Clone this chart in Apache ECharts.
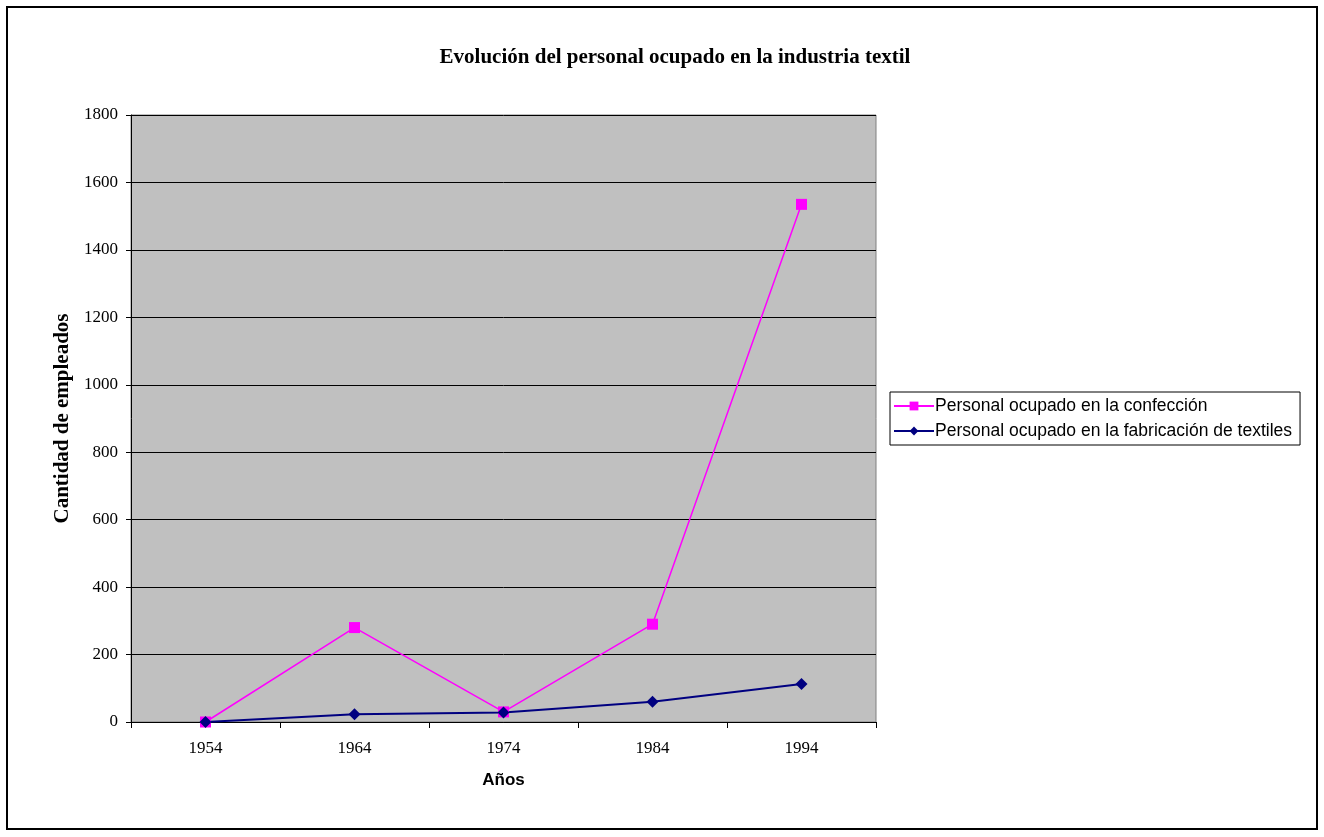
<!DOCTYPE html>
<html><head><meta charset="utf-8">
<script src="https://cdn.jsdelivr.net/npm/echarts@6/dist/echarts.min.js"></script>
<style>html,body{margin:0;padding:0;background:#fff}#c{width:1324px;height:837px}</style>
</head><body><div id="c"></div>
<script>
const categories = ['1954','1964','1974','1984','1994'];
const confeccion = [0, 280, 30, 290, 1535];
const textiles = [0, 23, 28, 60, 113];
const yTicks = [0, 200, 400, 600, 800, 1000, 1200, 1400, 1600, 1800];

const chart = echarts.init(document.getElementById('c'), null, {renderer:'canvas'});
chart.setOption({
  animation:false,
  backgroundColor:'#fff',
  title:{text:'Evolución del personal ocupado en la industria textil', left:670, top:42, textAlign:'center',
    textStyle:{fontFamily:'Liberation Serif', fontWeight:'bold', fontSize:21, color:'#000'}},
  graphic:[{type:'rect', shape:{x:7,y:7,width:1310,height:822}, style:{fill:'none', stroke:'#000', lineWidth:2}, silent:true}],
  grid:{left:131, top:115, width:745, height:607, show:true, backgroundColor:'#c0c0c0', borderColor:'#808080', borderWidth:1},
  legend:{orient:'vertical', left:890, top:392, padding:[5,8,5,3], itemGap:7, itemWidth:40, itemHeight:11,
    borderColor:'#000', borderWidth:1, backgroundColor:'#fff',
    textStyle:{fontFamily:'Liberation Sans', fontSize:17.5, color:'#000', padding:[0,0,0,-4]},
    data:['Personal ocupado en la confección','Personal ocupado en la fabricación de textiles']},
  xAxis:{type:'category', data:categories, boundaryGap:true,
    name:'Años', nameLocation:'middle', nameGap:50,
    nameTextStyle:{fontFamily:'Liberation Sans', fontWeight:'bold', fontSize:17, color:'#000'},
    axisLine:{lineStyle:{color:'#000'}}, axisTick:{show:true, length:6, lineStyle:{color:'#000'}},
    axisLabel:{fontFamily:'Liberation Serif', fontSize:17, color:'#000', margin:18}, splitLine:{show:false}},
  yAxis:{type:'value', min:yTicks[0], max:yTicks[yTicks.length-1], interval:200,
    name:'Cantidad de empleados', nameLocation:'middle', nameGap:58,
    nameTextStyle:{fontFamily:'Liberation Serif', fontWeight:'bold', fontSize:21, color:'#000'},
    axisLine:{show:true, lineStyle:{color:'#000'}}, axisTick:{show:true, length:5, lineStyle:{color:'#000'}},
    axisLabel:{fontFamily:'Liberation Serif', fontSize:17, color:'#000', margin:13, formatter:v=>String(v)},
    splitLine:{show:true, lineStyle:{color:'#000', width:1}}},
  series:[
    {name:'Personal ocupado en la confección', type:'line', data:confeccion,
     symbol:'rect', symbolSize:11, itemStyle:{color:'#ff00ff'}, lineStyle:{color:'#ff00ff', width:1.5}},
    {name:'Personal ocupado en la fabricación de textiles', type:'line', data:textiles,
     symbol:'diamond', symbolSize:12, itemStyle:{color:'#000080'}, lineStyle:{color:'#000080', width:2}}
  ]
});
</script></body></html>
